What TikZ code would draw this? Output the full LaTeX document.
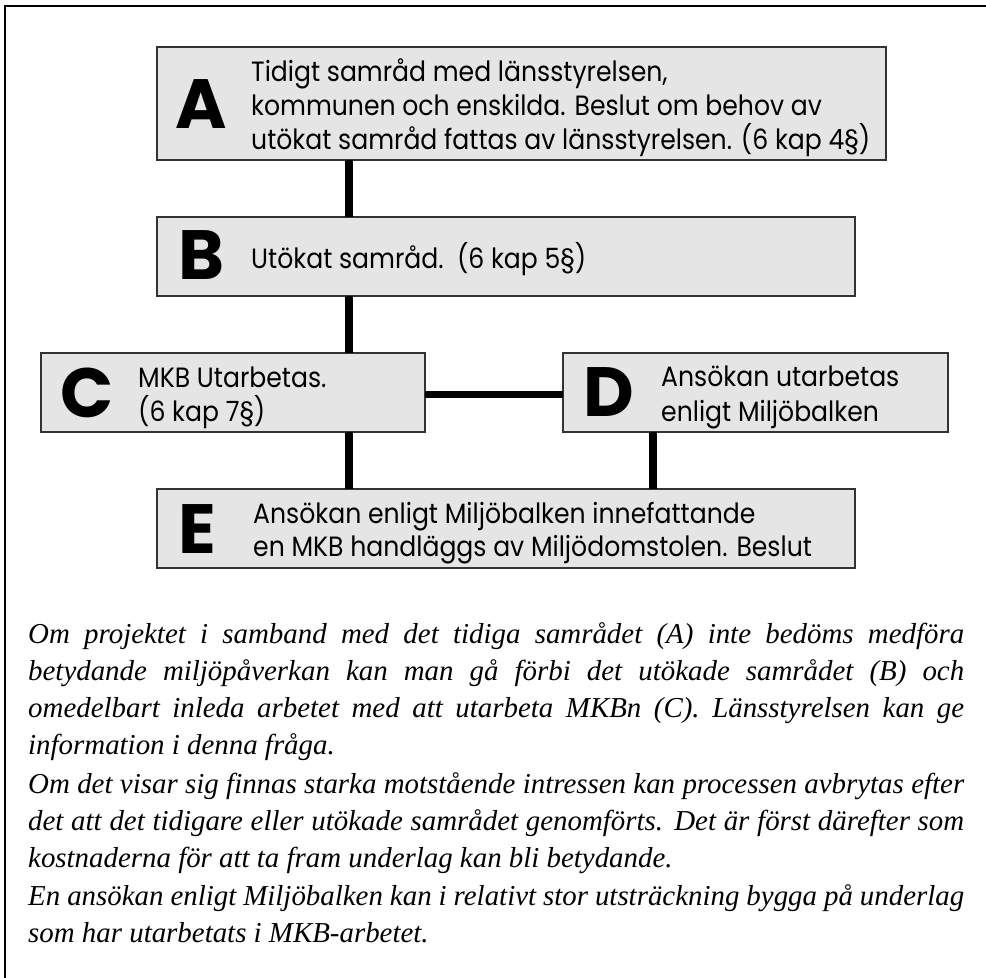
\documentclass[tikz,border=0pt]{standalone}
\usepackage{fontspec}
\setmainfont{Liberation Serif}
\newfontfamily\boxfont{Poppins}[FakeStretch=0.9]
\newfontfamily\letterfont{Poppins}
\begin{document}
\begin{tikzpicture}[x=1bp,y=-1bp]
\tikzset{
 box/.style={draw=black!80, line width=2bp, fill=black!10, anchor=north west, inner sep=0, outer sep=0},
 conn/.style={line width=7.5bp},
 letter/.style={anchor=base west, inner sep=0, font=\letterfont\bfseries\fontsize{70}{70}\selectfont},
 txt/.style={anchor=base west, inner sep=0, font=\boxfont\fontsize{28}{34}\selectfont},
 para/.style={anchor=base west, inner sep=0, font=\itshape\fontsize{29}{37}\selectfont},
}
\useasboundingbox (0,0) rectangle (986,978);
\draw[line width=1.5bp] (5,6) rectangle (1000,1000);
% connectors (drawn first, boxes cover their ends)
\coordinate (xl) at (349,0);
\coordinate (xr) at (653,0);
% boxes
\node[box, minimum width=729bp, minimum height=113bp] (A) at (157,47) {};
\node[box, minimum width=698bp, minimum height=79bp] (B) at (157,217) {};
\node[box, minimum width=384bp, minimum height=79bp] (C) at (41,353) {};
\node[box, minimum width=385bp, minimum height=79bp] (D) at (563,353) {};
\node[box, minimum width=698bp, minimum height=79bp] (E) at (157,489) {};
\draw[conn] (A.south -| xl) -- (B.north -| xl);
\draw[conn] (B.south -| xl) -- (C.north -| xl);
\draw[conn] (C.south -| xl) -- (E.north -| xl);
\draw[conn] ([yshift=-2bp]C.east) -- ([yshift=-2bp]D.west);
\draw[conn] (D.south -| xr) -- (E.north -| xr);
% letters
\node[letter] (LA) at (175,128) {A};
\node[letter] (LB) at (178,279) {B};
\node[letter] (LC) at (60,417) {C};
\node[letter] (LD) at (583,416) {D};
\node[letter] (LE) at (178,553) {E};
% texts
\node[txt] (A1) at (251,81) {Tidigt samråd med länsstyrelsen,};
\node[txt] (A2) at (251,115) {kommunen och enskilda. Beslut om behov av};
\node[txt] (A3) at (251,149) {utökat samråd fattas av länsstyrelsen. (6 kap 4§)};
\node[txt] (B1) at (251,268) {Utökat samråd.\ \ (6 kap 5§)};
\node[txt] (C1) at (138,387) {MKB Utarbetas.};
\node[txt] (C2) at (138,421) {(6 kap 7§)};
\node[txt] (D1) at (661,386) {Ansökan utarbetas};
\node[txt] (D2) at (661,421) {enligt Miljöbalken};
\node[txt] (E1) at (253,523) {Ansökan enligt Miljöbalken innefattande};
\node[txt] (E2) at (253,556) {en MKB handläggs av Miljödomstolen. Beslut};
% paragraphs
\newcommand\jl[1]{\makebox[936bp][s]{#1}}
\node[para] (P1a) at (28,643) {\jl{Om projektet i samband med det tidiga samrådet (A) inte bedöms medföra}};
\node[para] (P1b) at (28,680) {\jl{betydande miljöpåverkan kan man gå förbi det utökade samrådet (B) och}};
\node[para] (P1c) at (28,717) {\jl{omedelbart inleda arbetet med att utarbeta MKBn (C). Länsstyrelsen kan ge}};
\node[para] (P1d) at (28,754) {information i denna fråga.};
\node[para] (P2a) at (28,793) {\jl{Om det visar sig finnas starka motstående intressen kan processen avbrytas efter}};
\node[para] (P2b) at (28,830) {\jl{det att det tidigare eller utökade samrådet genomförts. Det är först därefter som}};
\node[para] (P2c) at (28,867) {kostnaderna för att ta fram underlag kan bli betydande.};
\node[para] (P3a) at (28,905) {\jl{En ansökan enligt Miljöbalken kan i relativt stor utsträckning bygga på underlag}};
\node[para] (P3b) at (28,942) {som har utarbetats i MKB-arbetet.};
\end{tikzpicture}
\end{document}
